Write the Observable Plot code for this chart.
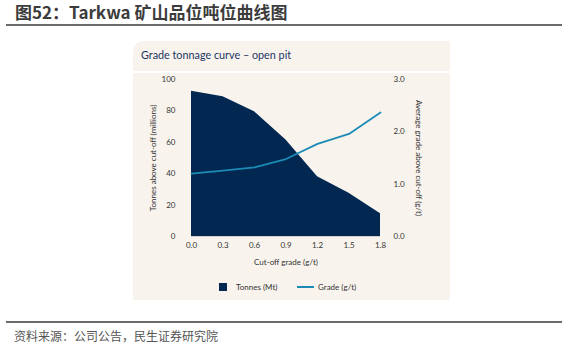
<!DOCTYPE html>
<html>
<head>
<meta charset="utf-8">
<script src="https://cdn.jsdelivr.net/npm/d3@7"></script>
<script src="https://cdn.jsdelivr.net/npm/@observablehq/plot@0.6"></script>
<style>
  html, body { margin: 0; padding: 0; background: #fff; }
  body { width: 568px; height: 351px; position: relative; overflow: hidden; font-family: "Noto Sans CJK SC", "Noto Sans", sans-serif; }
  .title { position: absolute; left: 15px; top: 1px; font-size: 17px; font-weight: bold; color: #3c3c3c; line-height: 22px; white-space: nowrap; }
  .rule-top { position: absolute; left: 6px; width: 556px; top: 24px; height: 2px; background: #6b6b6b; }
  .panel { position: absolute; left: 133px; top: 41px; width: 317px; height: 259px; background: #f8f4ed; border-top-left-radius: 10px; }
  .panel-sep { position: absolute; left: 133px; width: 317px; top: 71px; height: 2px; background: #ffffff; }
  .panel-title { position: absolute; left: 141px; top: 48px; font-family: Lato, "Open Sans", sans-serif; font-size: 10.8px; color: #1b3563; line-height: 14px; white-space: nowrap; }
  #chart { position: absolute; left: 133px; top: 72px; }
  .legend { position: absolute; top: 281px; left: 0; font-family: Lato, "Open Sans", sans-serif; font-size: 8px; color: #333; line-height: 12px; }
  .legend span { position: absolute; white-space: nowrap; }
  .rule-bottom { position: absolute; left: 6px; width: 556px; top: 321px; height: 2px; background: #6b6b6b; }
  .source { position: absolute; left: 14px; top: 328px; font-size: 12px; color: #555; line-height: 16px; white-space: nowrap; }
</style>
</head>
<body>
<div class="title">图52：Tarkwa 矿山品位吨位曲线图</div>
<div class="rule-top"></div>
<div class="panel"></div>
<div class="panel-sep"></div>
<div class="panel-title">Grade tonnage curve – open pit</div>
<div id="chart"></div>
<div class="legend" id="legend"></div>
<div class="rule-bottom"></div>
<div class="source">资料来源：公司公告，民生证券研究院</div>
<script>
// Data
const cutoff = [0.0, 0.3, 0.6, 0.9, 1.2, 1.5, 1.8];
const tonnes = [92.5, 89, 79.5, 61.5, 38, 27.5, 14.5];   // Mt above cut-off
const grade  = [1.20, 1.26, 1.32, 1.48, 1.77, 1.96, 2.37]; // g/t above cut-off
const xTicks = [0.0, 0.3, 0.6, 0.9, 1.2, 1.5, 1.8];
const tonnesTicks = [0, 20, 40, 60, 80, 100];
const gradeTicks = [0, 1, 2, 3];
const tonnesMax = 100, gradeMax = 3;
const seriesNames = ["Tonnes (Mt)", "Grade (g/t)"];
const colors = { tonnes: "#022851", grade: "#1b8bb6" };

const rows = cutoff.map((c, i) => ({ cutoff: c, tonnes: tonnes[i], grade: grade[i] }));
const toLeft = g => g * tonnesMax / gradeMax;

const chart = Plot.plot({
  width: 317,
  height: 200,
  marginLeft: 58,
  marginRight: 70,
  marginTop: 7,
  marginBottom: 36,
  style: { fontFamily: "Lato, 'Open Sans', sans-serif", fontSize: "8px", color: "#333", background: "transparent" },
  x: { domain: [0, 1.8] },
  y: { domain: [0, tonnesMax] },
  marks: [
    Plot.areaY(rows, { x: "cutoff", y: "tonnes", fill: colors.tonnes }),
    Plot.ruleY([0], { stroke: "#cfcfcf", strokeWidth: 1 }),
    Plot.line(rows, { x: "cutoff", y: d => toLeft(d.grade), stroke: colors.grade, strokeWidth: 1.8 }),
    Plot.axisX(xTicks, { tickSize: 0, tickPadding: 6, tickFormat: d => d.toFixed(1), label: null }),
    Plot.axisY(tonnesTicks, { anchor: "left", tickSize: 0, tickPadding: 16, label: null }),
    Plot.axisY(gradeTicks.map(toLeft), { anchor: "right", tickSize: 0, tickPadding: 13, tickFormat: d => (d * gradeMax / tonnesMax).toFixed(1), label: null }),
    Plot.text(["Tonnes above cut-off (millions)"], { frameAnchor: "left", dx: -38, rotate: -90, textAnchor: "middle", lineAnchor: "middle", fill: "#333" }),
    Plot.text(["Average grade above cut-off (g/t)"], { frameAnchor: "right", dx: 38, rotate: 90, textAnchor: "middle", lineAnchor: "middle", fill: "#333" }),
    Plot.text(["Cut-off grade (g/t)"], { frameAnchor: "bottom", dy: 26, textAnchor: "middle", lineAnchor: "middle", fill: "#333" })
  ]
});
document.getElementById("chart").appendChild(chart);

// Legend
const legend = document.getElementById("legend");
legend.innerHTML =
  `<span style="left:219px;top:2px;width:8px;height:8px;background:${colors.tonnes}"></span>` +
  `<span style="left:236px;top:0px">${seriesNames[0]}</span>` +
  `<span style="left:297px;top:5px;width:17px;height:2px;background:${colors.grade}"></span>` +
  `<span style="left:318px;top:0px">${seriesNames[1]}</span>`;
</script>
</body>
</html>
